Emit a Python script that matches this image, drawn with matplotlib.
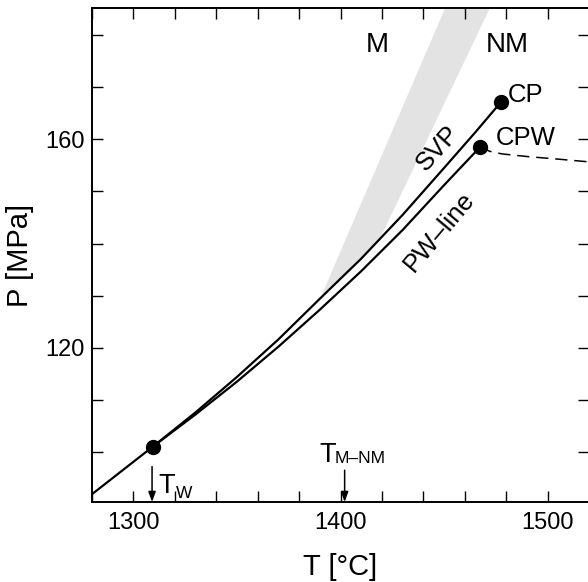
import matplotlib
matplotlib.use("Agg")
import matplotlib.pyplot as plt
from matplotlib.ticker import MultipleLocator

plt.rcParams['font.family'] = ['Liberation Sans', 'DejaVu Sans']

# ---- data (T in °C, P in MPa) ----
shared_T = [1280, 1309.3]
shared_P = [91.9, 101.0]

svp_T = [1309.3, 1330, 1350, 1370, 1390, 1410, 1430, 1450, 1465, 1477.6]
svp_P = [101.0, 107.6, 114.4, 121.6, 129.4, 137.1, 145.5, 154.5, 161.3, 167.2]

pw_T = [1309.3, 1330, 1350, 1370, 1390, 1410, 1430, 1450, 1467.6]
pw_P = [101.0, 107.2, 113.5, 120.2, 127.3, 134.7, 142.6, 151.2, 158.6]

dash_T = [1467.6, 1472, 1478, 1490, 1505, 1522]
dash_P = [158.6, 157.7, 157.2, 156.7, 156.2, 155.6]

band_left_T = [1391.0, 1452.5]
band_left_P = [130.2, 187.0]
band_right_T = [1474.3, 1418.5, 1410.0, 1400.0, 1391.0]
band_right_P = [187.0, 140.5, 137.1, 133.3, 130.2]

points_T = [1309.3, 1477.6, 1467.6]
points_P = [101.0, 167.2, 158.6]

T_W = 1309
T_MNM = 1402

xlim = (1280, 1520)
ylim = (90.4, 185.2)

# ---- figure ----
fig = plt.figure(figsize=(5.88, 5.82), dpi=100)
ax = fig.add_axes([92/588, 1-502/582, (589-92)/588, (502-8)/582])

band_T = band_left_T + band_right_T
band_P = band_left_P + band_right_P
ax.fill(band_T, band_P, color='#e3e3e3', lw=0, zorder=1)

ax.plot(shared_T, shared_P, color='black', lw=1.6, zorder=3, solid_capstyle='butt')
ax.plot(svp_T, svp_P, color='black', lw=1.6, zorder=3)
ax.plot(pw_T, pw_P, color='black', lw=1.6, zorder=3)
ax.plot(dash_T, dash_P, color='black', lw=1.1, ls=(0, (8, 4.5)), zorder=3)
ax.plot(points_T, points_P, 'o', color='black', ms=10, zorder=4)

ax.set_xlim(*xlim)
ax.set_ylim(*ylim)

ax.xaxis.set_major_locator(MultipleLocator(100))
ax.xaxis.set_minor_locator(MultipleLocator(20))
ax.yaxis.set_major_locator(MultipleLocator(40))
ax.yaxis.set_minor_locator(MultipleLocator(10))
ax.tick_params(which='both', direction='in', top=True, right=True,
               length=8, width=1.0)
ax.tick_params(axis='x', labelsize=17, pad=7)
ax.tick_params(axis='y', labelsize=17, pad=5)
for s in ax.spines.values():
    s.set_linewidth(1.4)

ax.set_xlabel('T [°C]', fontsize=21, labelpad=14)
ax.set_ylabel('P [MPa]', fontsize=21, labelpad=8)

# text labels
ax.text(1417.9, 178.1, 'M', fontsize=20, ha='center', va='center')
ax.text(1480.7, 178.1, 'NM', fontsize=20, ha='center', va='center')
ax.text(1481.0, 168.5, 'CP', fontsize=18.5, ha='left', va='center')
ax.text(1475.0, 160.3, 'CPW', fontsize=18.5, ha='left', va='center')
ax.text(1447.0, 158.3, 'SVP', fontsize=18.5, ha='center', va='center', rotation=48)
ax.text(1447.5, 142.2, 'PW–line', fontsize=18.5, ha='center', va='center', rotation=50)

# arrows
arrow_style = dict(arrowstyle='-|>,head_length=0.6,head_width=0.22',
                   color='black', lw=1.1, shrinkA=0, shrinkB=0)
ax.annotate('', xy=(T_W, ylim[0]), xytext=(T_W, 97.2), arrowprops=arrow_style)
ax.annotate('', xy=(T_MNM, ylim[0]), xytext=(T_MNM, 96.5), arrowprops=arrow_style)

# T_W label: main letter + subscript
ax.text(1312.2, 92.1, 'T', fontsize=19.5, ha='left', va='baseline')
ax.text(1320.3, 91.2, 'W', fontsize=12.5, ha='left', va='baseline')
# T_M–NM label
ax.text(1389.8, 98.1, 'T', fontsize=19.5, ha='left', va='baseline')
ax.text(1397.3, 97.8, 'M–NM', fontsize=12.5, ha='left', va='baseline')

fig.savefig('out.png', dpi=100)
